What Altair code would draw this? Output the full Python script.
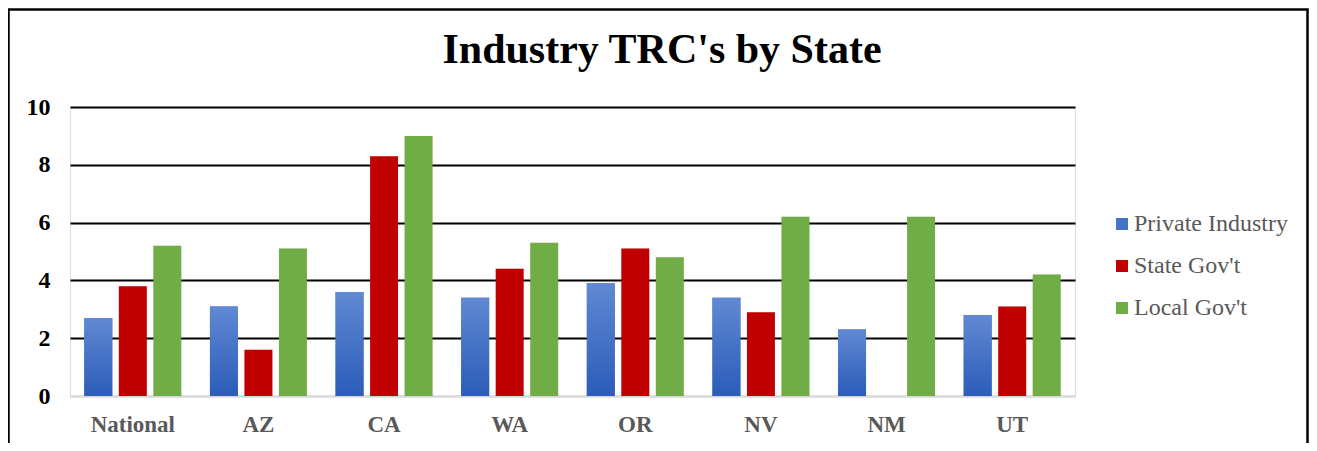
import altair as alt
import pandas as pd

categories = ["National", "AZ", "CA", "WA", "OR", "NV", "NM", "UT"]
series_names = ["Private Industry", "State Gov't", "Local Gov't"]
private_industry = [2.7, 3.1, 3.6, 3.4, 3.9, 3.4, 2.3, 2.8]
state_govt = [3.8, 1.6, 8.3, 4.4, 5.1, 2.9, None, 3.1]
local_govt = [5.2, 5.1, 9.0, 5.3, 4.8, 6.2, 6.2, 4.2]
y_ticks = [0, 2, 4, 6, 8, 10]
series_colors = ["#4472C4", "#C00000", "#70AD47"]
title_text = "Industry TRC's by State"

rows = []
for name, vals in zip(series_names, [private_industry, state_govt, local_govt]):
    for c, v in zip(categories, vals):
        if v is not None:
            rows.append({"category": c, "series": name, "value": v})
df = pd.DataFrame(rows)
one = pd.DataFrame({"a": [0]})

FONT = "Liberation Serif"

x_enc = alt.X("category:N", sort=categories, title=None,
              scale=alt.Scale(paddingInner=0.228, paddingOuter=0.114),
              axis=alt.Axis(labelAngle=0, labelFont=FONT, labelFontSize=23,
                            labelFontWeight="bold", labelColor="#595959",
                            labelPadding=17, ticks=False, tickSize=0,
                            domainColor="#D9D9D9", domainWidth=2, grid=False))
xoff_enc = alt.XOffset("series:N", scale=alt.Scale(domain=series_names, paddingInner=0.19, paddingOuter=0))
y_enc = alt.Y("value:Q", title=None,
              scale=alt.Scale(domain=[0, 10]),
              axis=alt.Axis(values=y_ticks, labelFont=FONT, labelFontSize=24,
                            labelFontWeight="bold", labelColor="black",
                            labelPadding=20, ticks=False, tickSize=0, domain=False,
                            grid=True, gridWidth=2,
                            gridColor=alt.condition("datum.value === 0", alt.value("#D9D9D9"), alt.value("black"))))

frame = alt.Chart(one).mark_rect(fillOpacity=0, stroke="black", strokeWidth=2.5).encode(
    x=alt.value(-61.5), x2=alt.value(1237.5), y=alt.value(-97.5), y2=alt.value(400)
)

shadow = alt.Chart(df).mark_bar(color="#000000", opacity=0.08, stroke="#000000",
                                 strokeWidth=4, strokeOpacity=0.08).encode(
    x=x_enc, xOffset=xoff_enc, y=y_enc
)

bars = alt.Chart(df).mark_bar().encode(
    x=x_enc, xOffset=xoff_enc, y=y_enc,
    color=alt.Color("series:N", scale=alt.Scale(domain=series_names, range=series_colors),
                    legend=alt.Legend(title=None, orient="none", legendX=1040, legendY=105,
                                      padding=0, labelFont=FONT, labelFontSize=24,
                                      labelColor="#595959", labelOffset=0,
                                      symbolType="square", symbolSize=144,
                                      symbolStrokeWidth=0, rowPadding=18))
)

grad = alt.Chart(df).transform_filter(alt.datum.series == "Private Industry").mark_bar(
    color=alt.Gradient(gradient="linear",
                       stops=[alt.GradientStop(color="#6189D3", offset=0),
                              alt.GradientStop(color="#2B5CB9", offset=1)],
                       x1=0, x2=0, y1=0, y2=1)
).encode(x=x_enc, xOffset=xoff_enc, y=y_enc)

title = alt.Chart(one).mark_text(text=title_text, font=FONT, fontSize=42, fontWeight="bold",
                                 color="black", align="center", baseline="alphabetic").encode(
    x=alt.value(592), y=alt.value(-44)
)

chart = alt.layer(frame, shadow, bars, grad, title).properties(
    width=1005, height=289,
    padding={"left": 62, "top": 99, "right": 234, "bottom": 47},
    autosize=alt.AutoSizeParams(type="none"),
).configure_view(stroke=None).configure(background="white", font=FONT)

chart.save("out.html", embed_options={"renderer": "svg", "actions": False})
